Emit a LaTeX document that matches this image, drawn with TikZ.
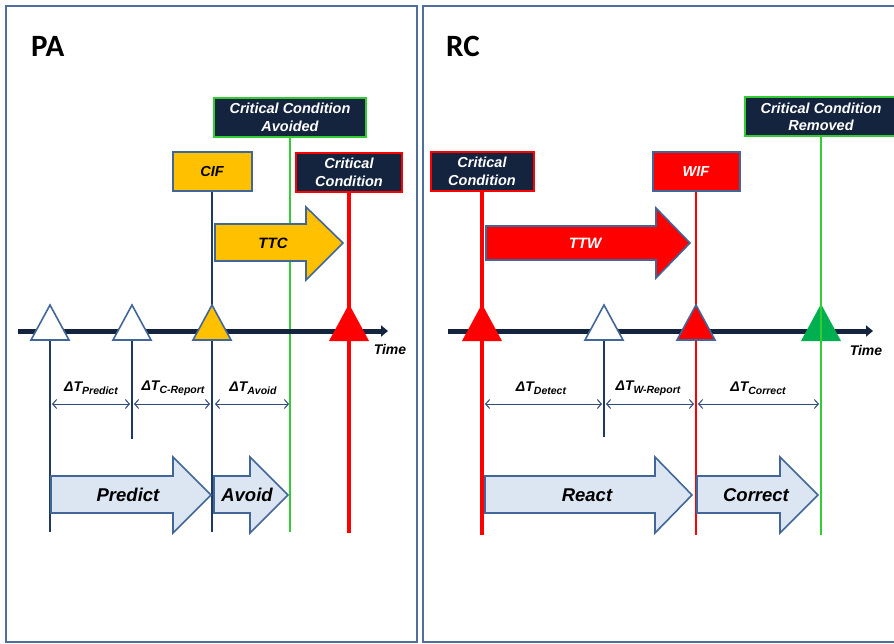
\documentclass[tikz,border=0pt]{standalone}
\usepackage{fontspec}
\setmainfont{Liberation Sans}
\newfontfamily\titlefont{Carlito}
\usetikzlibrary{arrows.meta}

\definecolor{navy}{HTML}{14243F}
\definecolor{steel}{HTML}{41679A}
\definecolor{panelblue}{HTML}{4F6E9C}
\definecolor{dimblue}{HTML}{2F4A7A}
\definecolor{linenavy}{HTML}{1F3864}
\definecolor{amber}{HTML}{FFC000}
\definecolor{alarm}{HTML}{FF0000}
\definecolor{okgreen}{HTML}{33CC33}
\definecolor{deepgreen}{HTML}{00B050}
\definecolor{paleblue}{HTML}{DCE6F2}

\tikzset{
  panel/.style={draw=panelblue, line width=2pt},
  paneltitle/.style={font=\titlefont\bfseries\fontsize{31}{31}\selectfont, anchor=base west, inner sep=0},
  eventbox/.style={line width=2pt, minimum height=39pt, inner sep=0, align=center,
    font=\bfseries\itshape\fontsize{14.5}{17.5}\selectfont},
  condbox/.style={eventbox, fill=navy, text=white},
  timeline/.style={draw=navy, line width=5pt, -{Triangle[length=7pt,width=11pt]}},
  timelabel/.style={font=\bfseries\itshape\fontsize{14}{14}\selectfont, inner sep=0},
  marker/.style={line width=1.6pt, draw=steel, line join=miter},
  dimline/.style={draw=dimblue, line width=1pt, {Straight Barb[length=4pt,width=9pt]}-{Straight Barb[length=4pt,width=9pt]}},
  dimlabel/.style={inner sep=0, font=\bfseries\itshape},
  phase/.style={fill=paleblue, draw=steel, line width=1.6pt, line join=miter},
  phaselabel/.style={inner sep=0, font=\bfseries\itshape\fontsize{18.5}{18.5}\selectfont},
  navyline/.style={draw=linenavy, line width=1.5pt},
  greenline/.style={draw=okgreen, line width=1.5pt},
  redthick/.style={draw=alarm, line width=4pt},
  redthin/.style={draw=alarm, line width=2pt},
}

% Delta-T label with a lowered, smaller index
\newcommand{\dT}[1]{{\fontsize{14}{14}\selectfont ΔT}\raisebox{-3pt}{\fontsize{10.5}{10.5}\selectfont #1}}

\begin{document}
\begin{tikzpicture}[x=1pt, y=-1pt]
\useasboundingbox (0,0) rectangle (894,644);
\begin{scope}
\clip (0,0) rectangle (894,644);

% ---------- panels ----------
\draw[panel] (6,6) rectangle (417,642);
\draw[panel] (423,6) rectangle (910,642);
\node[paneltitle] (pa) at (31,57) {PA};
\node[paneltitle] (rc) at (446,57) {RC};

% ================= PA =================
% event boxes
\node[condbox, draw=okgreen, minimum width=152pt] (cca) at (290,117.5) {Critical Condition\\Avoided};
\node[eventbox, fill=amber, draw=steel, minimum width=79pt] (cif) at (212,171.5) {CIF};
\node[condbox, draw=alarm, minimum width=106pt] (ccl) at (349,172.5) {Critical\\Condition};

% end points of the event lines
\coordinate (pe1) at (50,532);
\coordinate (pe2) at (132,439);
\coordinate (pe3) at (212,532);
\coordinate (pe4) at (290,532);
\coordinate (pe5) at (349,533);
\coordinate (ps1) at (50,340);
\coordinate (ps2) at (132,340);

\draw[navyline] (ps1) -- (pe1);
\draw[navyline] (ps2) -- (pe2);
\draw[navyline] (cif.south) -- (pe3);
\draw[greenline] (cca.south) -- (pe4);
\draw[redthick] (ccl.south) -- (pe5);

% time axis
\coordinate (pt0) at (18,331);
\coordinate (pt1) at (388,331);
\draw[timeline] (pt0) -- (pt1);
\node[timelabel] (ptime) at (390,349) {Time};

% markers on the axis
\draw[marker, fill=white] (31,340) -- (50,305) -- (69,340) -- cycle;
\draw[marker, fill=white] (113,340) -- (132,305) -- (151,340) -- cycle;
\draw[marker, fill=amber] (193,340) -- (212,305) -- (231,340) -- cycle;
\fill[alarm] (329,341) -- (349,304) -- (369,341) -- cycle;

% time to critical condition
\draw[marker, fill=amber] (215,224) -- (306,224) -- (306,207) -- (343,243)
  -- (306,280) -- (306,261) -- (215,261) -- cycle;
\node[inner sep=0, font=\bfseries\itshape\fontsize{15}{15}\selectfont] (ttc) at (273,243) {TTC};

% intervals
\coordinate (pd1) at (52,404);
\coordinate (pd2) at (130,404);
\coordinate (pd3) at (134,404);
\coordinate (pd4) at (210,404);
\coordinate (pd5) at (215,404);
\coordinate (pd6) at (289,404);
\draw[dimline] (pd1) -- (pd2);
\draw[dimline] (pd3) -- (pd4);
\draw[dimline] (pd5) -- (pd6);
\node[dimlabel] (lpred) at (91,388) {\dT{Predict}};
\node[dimlabel] (lcrep) at (173,388) {\dT{C-Report}};
\node[dimlabel] (lavd) at (253,388) {\dT{Avoid}};

% phases
\draw[phase] (51,476) -- (173,476) -- (173,457) -- (211,495) -- (173,533)
  -- (173,513) -- (51,513) -- cycle;
\draw[phase] (214,476) -- (250,476) -- (250,457) -- (288,495) -- (250,533)
  -- (250,513) -- (214,513) -- cycle;
\node[phaselabel] (predict) at (128,495) {Predict};
\node[phaselabel] (avoid) at (247,495) {Avoid};

% ================= RC =================
\node[condbox, draw=alarm, minimum width=103pt] (ccr) at (482,171.5) {Critical\\Condition};
\node[eventbox, fill=alarm, draw=steel, text=white, minimum width=87pt] (wif) at (696,171.5) {WIF};
\node[condbox, draw=okgreen, minimum width=152pt] (ccm) at (821,117) {Critical Condition\\Removed};

\coordinate (re1) at (482,535);
\coordinate (rs2) at (604,340);
\coordinate (re2) at (604,437);
\coordinate (re3) at (696,535);
\coordinate (re4) at (821,535);

\draw[redthick] (ccr.south) -- (re1);
\draw[navyline] (rs2) -- (re2);
\draw[redthin] (wif.south) -- (re3);
\draw[greenline] (ccm.south) -- (re4);

% time axis
\coordinate (rt0) at (448,331);
\coordinate (rt1) at (873,331);
\draw[timeline] (rt0) -- (rt1);
\node[timelabel] (rtime) at (866,350) {Time};

% markers on the axis
\fill[alarm] (462,341) -- (482,304) -- (502,341) -- cycle;
\draw[marker, fill=white] (585,340) -- (604,305) -- (623,340) -- cycle;
\draw[marker, fill=alarm] (677,340) -- (696,305) -- (715,340) -- cycle;
\fill[deepgreen] (801,341) -- (821,304) -- (841,341) -- cycle;
\draw[greenline] (821,304) -- (821,341);

% time to warning
\draw[marker, fill=alarm] (486,226) -- (656,226) -- (656,208) -- (690,243)
  -- (656,278) -- (656,260) -- (486,260) -- cycle;
\node[inner sep=0, text=white, font=\bfseries\itshape\fontsize{15}{15}\selectfont] (ttw) at (585,243) {TTW};

% intervals
\coordinate (rd1) at (485,404);
\coordinate (rd2) at (602,404);
\coordinate (rd3) at (606,404);
\coordinate (rd4) at (694,404);
\coordinate (rd5) at (698,404);
\coordinate (rd6) at (819,404);
\draw[dimline] (rd1) -- (rd2);
\draw[dimline] (rd3) -- (rd4);
\draw[dimline] (rd5) -- (rd6);
\node[dimlabel] (ldet) at (541,388) {\dT{Detect}};
\node[dimlabel] (lwrep) at (648,388) {\dT{W-Report}};
\node[dimlabel] (lcor) at (758,388) {\dT{Correct}};

% phases
\draw[phase] (485,476) -- (655,476) -- (655,457) -- (692,495) -- (655,533)
  -- (655,513) -- (485,513) -- cycle;
\draw[phase] (697,476) -- (780,476) -- (780,457) -- (818,495) -- (780,533)
  -- (780,513) -- (697,513) -- cycle;
\node[phaselabel] (react) at (587,495) {React};
\node[phaselabel] (correct) at (756,495) {Correct};

\end{scope}
\end{tikzpicture}
\end{document}
